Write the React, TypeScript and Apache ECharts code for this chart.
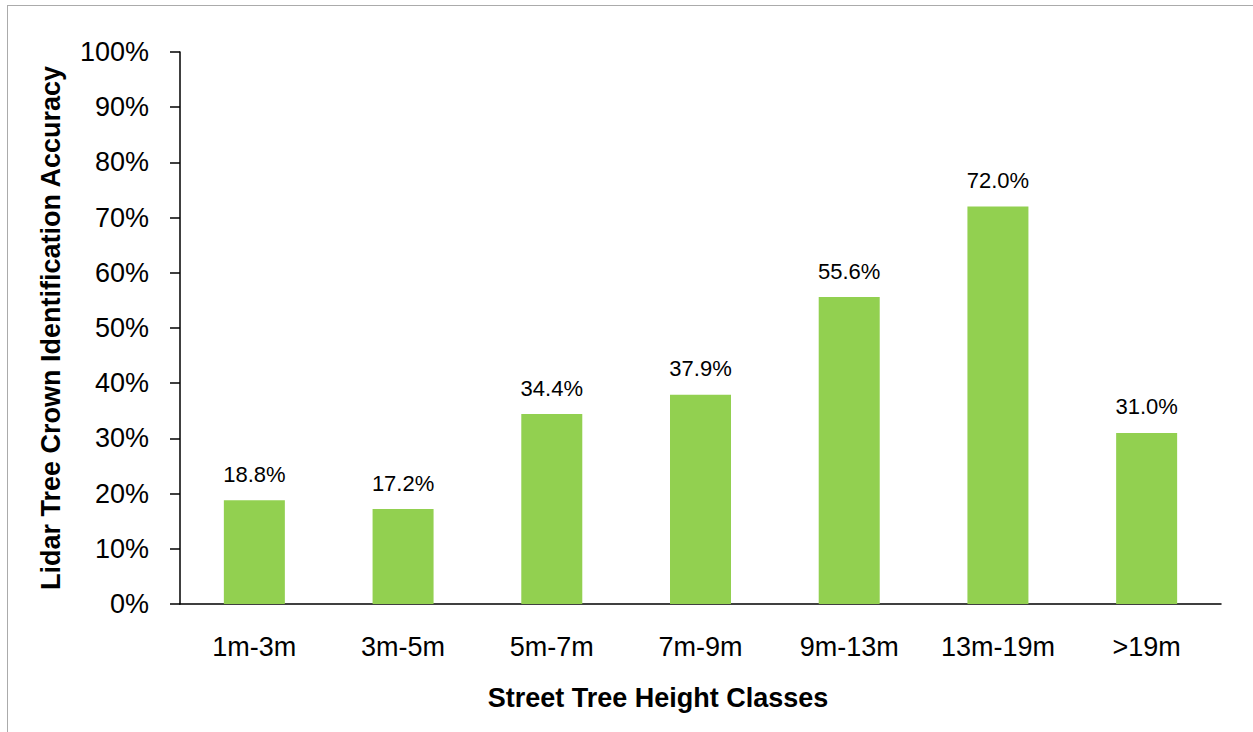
import React, { useEffect, useRef } from "react";
import * as echarts from "echarts";

const categories = ["1m-3m", "3m-5m", "5m-7m", "7m-9m", "9m-13m", "13m-19m", ">19m"];
const accuracy = [18.8, 17.2, 34.4, 37.9, 55.6, 72.0, 31.0];
const xTitle = "Street Tree Height Classes";
const yTitle = "Lidar Tree Crown Identification Accuracy";

const FONT = "'Liberation Sans', Arial, sans-serif";

export default function App() {
  const ref = useRef<HTMLDivElement>(null);
  useEffect(() => {
    if (!ref.current) return;
    const chart = echarts.init(ref.current, undefined, { renderer: "svg" });
    chart.setOption({
      animation: false,
      backgroundColor: "#ffffff",
      textStyle: { fontFamily: FONT },
      grid: { left: 180, right: 32, top: 52, bottom: 128, containLabel: false },
      graphic: [
        { type: "line", shape: { x1: 7, y1: 5.5, x2: 1253, y2: 5.5 }, style: { stroke: "#ababab", lineWidth: 1 } },
        { type: "line", shape: { x1: 7.5, y1: 5, x2: 7.5, y2: 732 }, style: { stroke: "#ababab", lineWidth: 1 } },
        {
          type: "text",
          x: 658,
          y: 698,
          style: {
            text: xTitle,
            fontFamily: FONT,
            fontWeight: "bold",
            fontSize: 27,
            fill: "#000",
            align: "center",
            verticalAlign: "middle",
          },
        },
      ],
      xAxis: {
        type: "category",
        data: categories,
        axisLine: { lineStyle: { color: "#000", width: 1.5 } },
        axisTick: { show: false },
        axisLabel: { fontFamily: FONT, fontSize: 27, color: "#000", margin: 29 },
      },
      yAxis: {
        type: "value",
        min: 0,
        max: 100,
        interval: 10,
        name: yTitle,
        nameLocation: "middle",
        nameGap: 116,
        nameTextStyle: { fontFamily: FONT, fontWeight: "bold", fontSize: 27, color: "#000" },
        axisLine: { show: true, lineStyle: { color: "#000", width: 1.5 } },
        axisTick: { show: true, length: 10, lineStyle: { color: "#000", width: 1.5 } },
        splitLine: { show: false },
        axisLabel: { fontFamily: FONT, fontSize: 27, color: "#000", margin: 31, formatter: "{value}%" },
      },
      series: [
        {
          type: "bar",
          data: accuracy,
          barWidth: 61,
          itemStyle: { color: "#92d050" },
          label: {
            show: true,
            position: "top",
            distance: 15,
            fontFamily: FONT,
            fontSize: 22,
            color: "#000",
            formatter: (p: any) => p.value.toFixed(1) + "%",
          },
        },
      ],
    });
    return () => chart.dispose();
  }, []);
  return (
    <div
      ref={ref}
      style={{ position: "fixed", left: 0, top: 0, width: 1253, height: 732, background: "#fff" }}
    />
  );
}
